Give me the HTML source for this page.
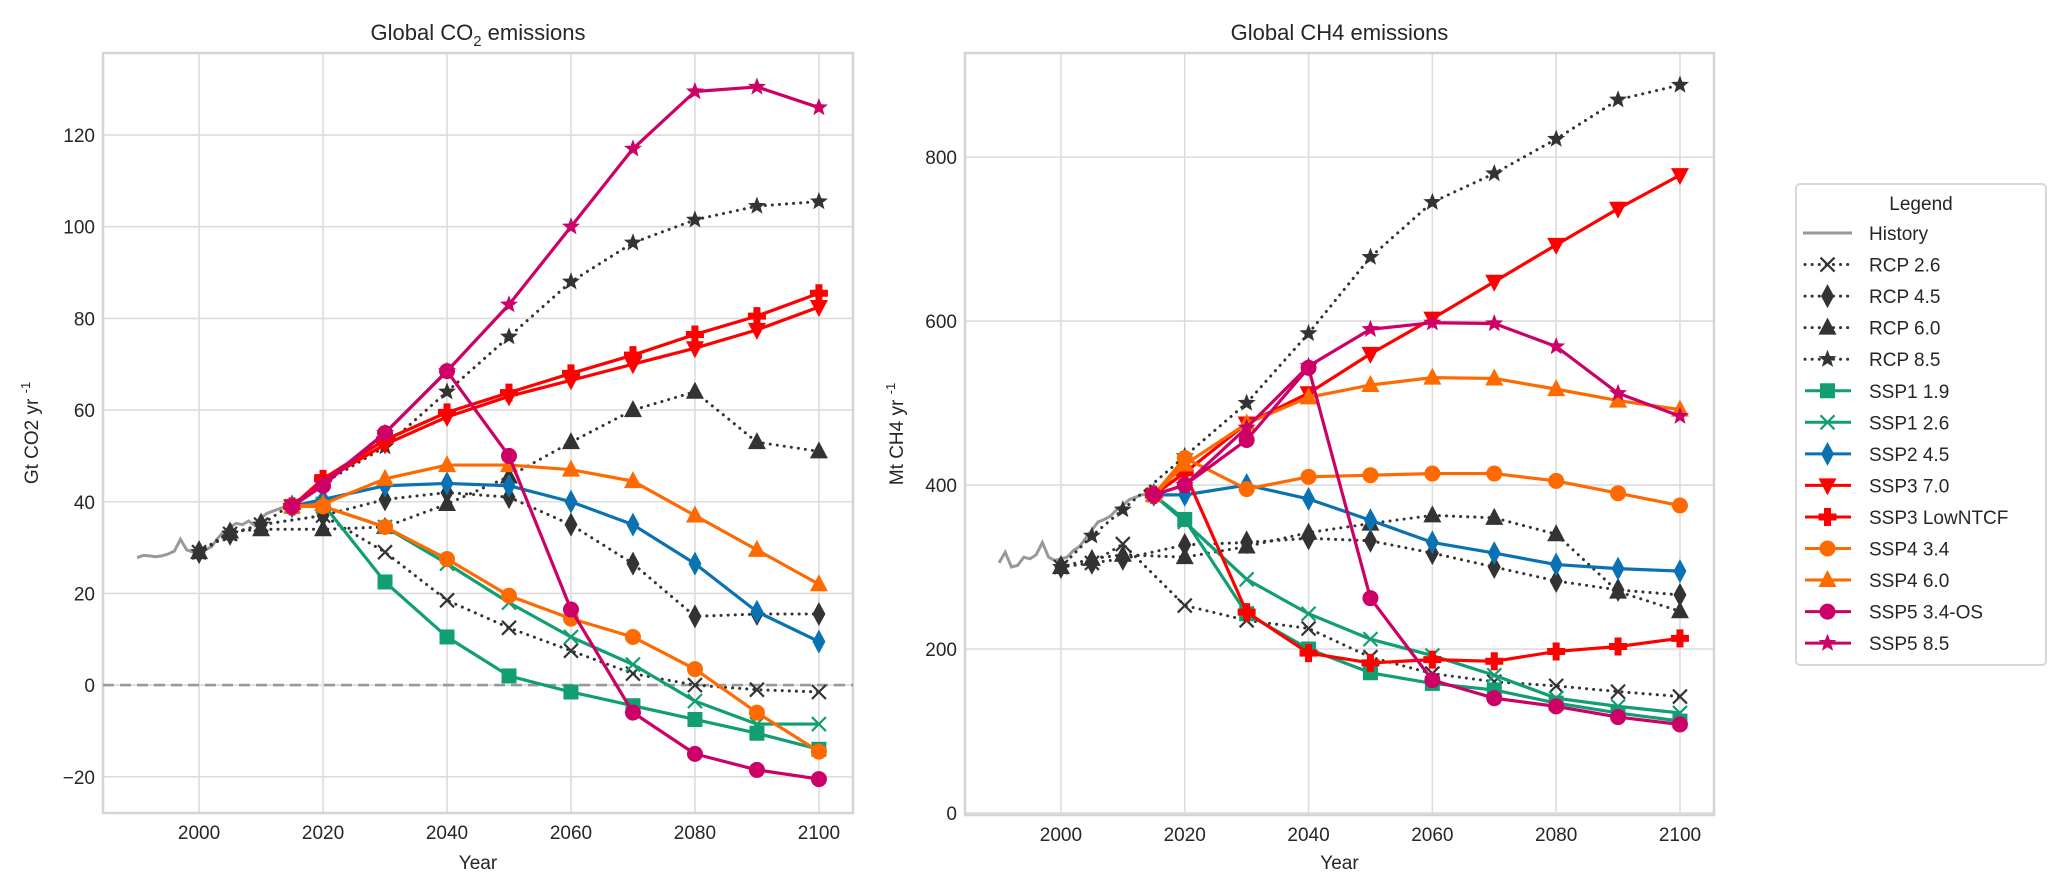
<!DOCTYPE html>
<html><head><meta charset="utf-8"><style>
html,body{margin:0;padding:0;background:#fff;}
svg{display:block;font-family:"Liberation Sans",Arial,sans-serif;}
</style></head><body>
<svg id="chart" width="2067" height="888" viewBox="0 0 2067 888" xmlns="http://www.w3.org/2000/svg"></svg>
<script>
const histYears = [1990,1991,1992,1993,1994,1995,1996,1997,1998,1999,2000,2001,2002,2003,2004,2005,2006,2007,2008,2009,2010,2011,2012,2013,2014,2015];
const co2History = [27.8,28.3,28.2,28.0,28.2,28.6,29.2,31.8,29.5,29.0,29.3,29.5,30.2,32,33.5,34.5,35.3,35.0,35.8,34.8,36.5,37.5,38,38.5,39.0,39.2];
const ch4History = [305,318,300,302,312,310,315,330,312,308,310,312,320,325,335,345,355,358,362,370,375,382,385,388,389,390];
const rcpYears = [2000,2005,2010,2020,2030,2040,2050,2060,2070,2080,2090,2100];
const sspYears = [2015,2020,2030,2040,2050,2060,2070,2080,2090,2100];
const seriesNames = ["RCP 2.6","RCP 4.5","RCP 6.0","RCP 8.5","SSP1 1.9","SSP1 2.6","SSP2 4.5","SSP3 7.0","SSP3 LowNTCF","SSP4 3.4","SSP4 6.0","SSP5 3.4-OS","SSP5 8.5"];
const co2Rcp26 = [29,33,35,37,29,18.5,12.5,7.5,2.5,0,-1,-1.5];
const co2Rcp45 = [29,33,35,37,40.5,42,41,35,26.5,15,15.5,15.5];
const co2Rcp60 = [29,33.5,34,34,34.5,39.5,45.5,53,60,64,53,51];
const co2Rcp85 = [29,33,35,44,52,64,76,88,96.5,101.5,104.5,105.5];
const co2Ssp119 = [39,39.5,22.5,10.5,2,-1.5,-4.5,-7.5,-10.5,-14];
const co2Ssp126 = [39,39,34.5,26.5,18,10.5,4.5,-3.5,-8.5,-8.5];
const co2Ssp245 = [39,40.5,43.5,44,43.5,40,35,26.5,16,9.5];
const co2Ssp370 = [39,44.5,52.5,58.5,63,66.5,70,73.5,77.5,82.5];
const co2Ssp3Low = [39,45,53.5,59.5,63.8,68,72,76.5,80.5,85.5];
const co2Ssp434 = [39,39,34.5,27.5,19.5,14.5,10.5,3.5,-6,-14.5];
const co2Ssp460 = [39,39.5,45,48,48,47,44.5,37,29.5,22];
const co2Ssp534 = [39,43.5,55,68.5,50,16.5,-6,-15,-18.5,-20.5];
const co2Ssp585 = [39,44,55,68.5,83,100,117,129.5,130.5,126];
const ch4Rcp26 = [300,305,328,253,235,225,190,170,160,155,148,142];
const ch4Rcp45 = [300,305,310,327,330,335,332,317,300,283,272,266];
const ch4Rcp60 = [300,310,315,312,325,342,353,363,360,340,270,246];
const ch4Rcp85 = [300,338,370,435,500,585,678,745,780,822,870,888];
const ch4Ssp119 = [388,358,243,200,171,158,150,134,122,112];
const ch4Ssp126 = [388,355,285,243,212,192,168,140,130,122];
const ch4Ssp245 = [388,388,400,383,357,330,317,303,298,295];
const ch4Ssp370 = [388,415,475,512,560,603,648,693,737,778];
const ch4Ssp3Low = [388,415,245,195,183,187,185,197,203,213];
const ch4Ssp434 = [388,433,395,410,412,414,414,405,390,375];
const ch4Ssp460 = [388,425,475,507,522,531,530,517,503,492];
const ch4Ssp534 = [388,400,455,543,262,162,140,130,117,108];
const ch4Ssp585 = [388,400,470,545,590,598,597,569,512,484];
const xTicks = [2000,2020,2040,2060,2080,2100];
const co2Ticks = [-20,0,20,40,60,80,100,120];
const ch4Ticks = [0,200,400,600,800];

const NS="http://www.w3.org/2000/svg";
const svg=document.getElementById('chart');
function mk(tag,attrs,parent){const e=document.createElementNS(NS,tag);for(const k in attrs)e.setAttribute(k,attrs[k]);(parent||svg).appendChild(e);return e;}

const styles=[
 {c:'#333',m:'x',dot:true},{c:'#333',m:'d',dot:true},{c:'#333',m:'t',dot:true},{c:'#333',m:'s',dot:true},
 {c:'#119e73',m:'q'},{c:'#119e73',m:'x'},{c:'#0a72b2',m:'d'},{c:'#ff0000',m:'v'},{c:'#ff0000',m:'p'},
 {c:'#ff6a00',m:'o'},{c:'#ff6a00',m:'t'},{c:'#cc0066',m:'o'},{c:'#cc0066',m:'s'}];

function marker(g,type,x,y,c){
  const r=8;
  if(type==='x'){const p=mk('path',{d:`M${x-7} ${y-7}L${x+7} ${y+7}M${x-7} ${y+7}L${x+7} ${y-7}`,stroke:c,'stroke-width':2.2,fill:'none'},g);return p;}
  if(type==='d') return mk('polygon',{points:`${x},${y-12} ${x+6.5},${y} ${x},${y+12} ${x-6.5},${y}`,fill:c},g);
  if(type==='t') return mk('polygon',{points:`${x},${y-10} ${x+9},${y+7} ${x-9},${y+7}`,fill:c},g);
  if(type==='v') return mk('polygon',{points:`${x},${y+10} ${x+9},${y-7} ${x-9},${y-7}`,fill:c},g);
  if(type==='q') return mk('rect',{x:x-7.5,y:y-7.5,width:15,height:15,fill:c},g);
  if(type==='o') return mk('circle',{cx:x,cy:y,r:r,fill:c},g);
  if(type==='p') return mk('path',{d:`M${x-3.5} ${y-9}h7v5.5h5.5v7h-5.5v5.5h-7v-5.5h-5.5v-7h5.5z`,fill:c},g);
  if(type==='s'){let pts=[];for(let i=0;i<10;i++){const a=-Math.PI/2+i*Math.PI/5;const rr=i%2?4:9.5;pts.push((x+rr*Math.cos(a)).toFixed(1)+','+(y+rr*Math.sin(a)).toFixed(1));}return mk('polygon',{points:pts.join(' '),fill:c},g);}
}

function panel(cfg){
  const {L,R,T,B,x0,x1,y0,y1,ticks,title,ylabel,hist,series,name,zero}=cfg;
  const sx=v=>L+(v-x0)/(x1-x0)*(R-L);
  const sy=v=>B-(v-y0)/(y1-y0)*(B-T);
  const g=mk('g',{});
  
  
  // grid
  xTicks.forEach(t=>{const l=mk('line',{x1:sx(t),x2:sx(t),y1:T,y2:B,stroke:'#dcdcdc','stroke-width':1.6},g);
    
    const tx=mk('text',{x:sx(t),y:B+26,'font-size':19,fill:'#262626','text-anchor':'middle'},g);tx.textContent=t;
    });
  ticks.forEach(t=>{const l=mk('line',{x1:L,x2:R,y1:sy(t),y2:sy(t),stroke:'#dcdcdc','stroke-width':1.6},g);
    
    const tx=mk('text',{x:L-8,y:sy(t)+7,'font-size':19,fill:'#262626','text-anchor':'end'},g);tx.textContent=t<0?'\u2212'+(-t):t;
    });
  const fr=mk('rect',{x:L,y:T,width:R-L,height:B-T,fill:'none',stroke:'#d4d4d4','stroke-width':2.5},g);
  
  if(zero){const z=mk('line',{x1:L,x2:R,y1:sy(0),y2:sy(0),stroke:'#999','stroke-width':2.6,'stroke-dasharray':'11,6'},g);
    }
  // history
  const hp=mk('polyline',{points:histYears.map((y,i)=>sx(y)+','+sy(hist[i])).join(' '),fill:'none',stroke:'#999','stroke-width':3},g);
  
  series.forEach((vals,i)=>{
    const st=styles[i];const yrs=i<4?rcpYears:sspYears;
    const sg=mk('g',{},g);
    
    
    const attrs={points:yrs.map((y,j)=>sx(y)+','+sy(vals[j])).join(' '),fill:'none',stroke:st.c,'stroke-width':st.dot?3:3.2,'stroke-linejoin':'round'};
    if(st.dot){attrs['stroke-dasharray']='0.1,7';attrs['stroke-linecap']='round';}
    mk('polyline',attrs,sg);
    yrs.forEach((y,j)=>{const m=marker(sg,st.m,sx(y),sy(vals[j]),st.c);
      });
  });
  const tt=mk('text',{x:(L+R)/2,y:40,'font-size':22,fill:'#262626','text-anchor':'middle'},g);
  tt.innerHTML=title;
  const xl=mk('text',{x:(L+R)/2,y:869,'font-size':19,fill:'#262626','text-anchor':'middle'},g);
  xl.textContent='Year';
  const yl=mk('text',{x:0,y:0,'font-size':19,fill:'#262626','text-anchor':'middle',transform:`translate(${cfg.ylx},${(T+B)/2}) rotate(-90)`},g);
  yl.innerHTML=ylabel;
}

panel({name:'co2',L:103,R:853,T:53,B:813,x0:1984.5,x1:2105.5,y0:-27.9,y1:137.9,ticks:co2Ticks,zero:true,ylx:38,
  title:'Global CO<tspan font-size="15" dy="6">2</tspan><tspan dy="-6"> emissions</tspan>',
  ylabel:'Gt CO2 yr <tspan font-size="13" dy="-8">-1</tspan>',hist:co2History,
  series:[co2Rcp26,co2Rcp45,co2Rcp60,co2Rcp85,co2Ssp119,co2Ssp126,co2Ssp245,co2Ssp370,co2Ssp3Low,co2Ssp434,co2Ssp460,co2Ssp534,co2Ssp585]});
panel({name:'ch4',L:965,R:1714,T:53,B:815,x0:1984.5,x1:2105.5,y0:-2.5,y1:927,ticks:ch4Ticks,zero:false,ylx:903,
  title:'Global CH4 emissions',
  ylabel:'Mt CH4 yr <tspan font-size="13" dy="-8">-1</tspan>',hist:ch4History,
  series:[ch4Rcp26,ch4Rcp45,ch4Rcp60,ch4Rcp85,ch4Ssp119,ch4Ssp126,ch4Ssp245,ch4Ssp370,ch4Ssp3Low,ch4Ssp434,ch4Ssp460,ch4Ssp534,ch4Ssp585]});

// legend
const lg=mk('g',{});


mk('rect',{x:1796,y:184,width:250,height:481,rx:4,fill:'#fff',stroke:'#d8d8d8','stroke-width':2},lg);
const lt=mk('text',{x:1921,y:210,'font-size':19,fill:'#262626','text-anchor':'middle'},lg);lt.textContent='Legend';

const names=['History'].concat(seriesNames);
names.forEach((n,i)=>{
  const y=233+i*31.55;
  const eg=mk('g',{},lg);
  
  
  if(i===0){mk('line',{x1:1803,x2:1852,y1:y,y2:y,stroke:'#999','stroke-width':3},eg);}
  else{const st=styles[i-1];const a={x1:1805,x2:1851,y1:y,y2:y,stroke:st.c,'stroke-width':3};
    if(st.dot){a['stroke-dasharray']='0.1,7';a['stroke-linecap']='round';}
    mk('line',a,eg);marker(eg,st.m,1827.5,y,st.c);}
  const t=mk('text',{x:1869,y:y+7,'font-size':19,fill:'#262626'},eg);t.textContent=n;
});
</script>
</body></html>
